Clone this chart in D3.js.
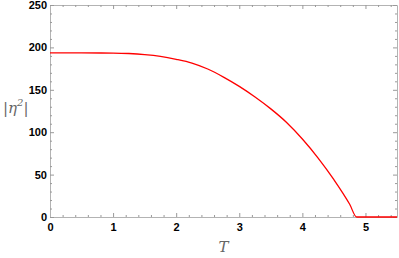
<!DOCTYPE html>
<html>
<head>
<meta charset="utf-8">
<script src="https://cdn.jsdelivr.net/npm/d3@7"></script>
<style>
  body { margin: 0; background: #fff; }
  .tick text { font-family: "Liberation Sans", Arial, sans-serif; font-weight: bold; font-size: 11px; fill: #000; }
  .label { font-family: "DejaVu Serif", serif; font-style: italic; fill: #666; font-size: 15px; }
</style>
</head>
<body>
<svg id="chart" width="399" height="258"></svg>
<script>
// values
var tVals   = [0, 0.5, 1, 1.25, 1.5, 1.75, 2, 2.25, 2.5, 2.75, 3, 3.25, 3.5, 3.75, 4, 4.25, 4.5, 4.75, 4.86, 5, 5.5];
var etaVals = [193.5, 193.5, 193.3, 192.8, 191.6, 189.5, 186, 181.5, 174.5, 165, 154, 141.5, 127.5, 111.5, 92, 69.5, 44, 15, 0, 0, 0];
var xTicks = [0, 1, 2, 3, 4, 5];
var yTicks = [0, 50, 100, 150, 200, 250];

var data = tVals.map(function(t, i) { return { t: t, v: etaVals[i] }; });

var margin = { top: 5, right: 2, bottom: 41, left: 50 };
var width = 399 - margin.left - margin.right,
    height = 258 - margin.top - margin.bottom;

var svg = d3.select("#chart").append("g")
  .attr("transform", "translate(" + margin.left + "," + margin.top + ")");

var x = d3.scaleLinear().domain([0, 5.5]).range([0, width]);
var y = d3.scaleLinear().domain([0, 250]).range([height, 0]);

var frameColor = "#b3b3b3";

// minor ticks
var xMinor = d3.range(0, 5.5001, 0.2).filter(function(d) { return Math.abs(d - Math.round(d)) > 1e-6; });
var yMinor = d3.range(0, 250.001, 10).filter(function(d) { return d % 50 !== 0; });

function styleAxis(g) {
  g.select(".domain").attr("stroke", frameColor);
  g.selectAll(".tick line").attr("stroke", "#999");
}

// bottom
svg.append("g").attr("transform", "translate(0," + height + ")")
  .call(d3.axisBottom(x).tickValues(xTicks).tickSizeInner(-4).tickSizeOuter(0).tickPadding(6).tickFormat(d3.format("d")))
  .call(styleAxis);
svg.append("g").attr("transform", "translate(0," + height + ")")
  .call(d3.axisBottom(x).tickValues(xMinor).tickSize(-2).tickFormat(""))
  .call(styleAxis).select(".domain").remove();
// top
svg.append("g")
  .call(d3.axisTop(x).tickValues(xTicks).tickSizeInner(-4).tickSizeOuter(0).tickFormat(""))
  .call(styleAxis);
svg.append("g")
  .call(d3.axisTop(x).tickValues(xMinor).tickSize(-2).tickFormat(""))
  .call(styleAxis).select(".domain").remove();
// left
svg.append("g")
  .call(d3.axisLeft(y).tickValues(yTicks).tickSizeInner(-4).tickSizeOuter(0).tickPadding(3).tickFormat(d3.format("d")))
  .call(styleAxis);
svg.append("g")
  .call(d3.axisLeft(y).tickValues(yMinor).tickSize(-2).tickFormat(""))
  .call(styleAxis).select(".domain").remove();
// right
svg.append("g").attr("transform", "translate(" + width + ",0)")
  .call(d3.axisRight(y).tickValues(yTicks).tickSizeInner(-4).tickSizeOuter(0).tickFormat(""))
  .call(styleAxis);
svg.append("g").attr("transform", "translate(" + width + ",0)")
  .call(d3.axisRight(y).tickValues(yMinor).tickSize(-2).tickFormat(""))
  .call(styleAxis).select(".domain").remove();

svg.selectAll(".tick text").attr("font-family", null).attr("font-size", null);

// curve
var line = d3.line()
  .x(function(d) { return x(d.t); })
  .y(function(d) { return y(d.v); })
  .curve(d3.curveMonotoneX);

svg.append("path")
  .datum(data)
  .attr("fill", "none")
  .attr("stroke", "#ff0000")
  .attr("stroke-width", 1.3)
  .attr("d", line);

// axis labels
svg.append("text").attr("class", "label")
  .attr("x", x(2.75)).attr("y", height + 35)
  .attr("text-anchor", "middle")
  .text("T");

var yl = svg.append("text").attr("class", "label")
  .attr("x", -47).attr("y", y(128) + 5)
  .attr("text-anchor", "start");
yl.append("tspan").text("|\u03B7");
yl.append("tspan").attr("font-size", "10px").attr("dy", -7).text("2");
yl.append("tspan").attr("dy", 7).text("|");
</script>
</body>
</html>
